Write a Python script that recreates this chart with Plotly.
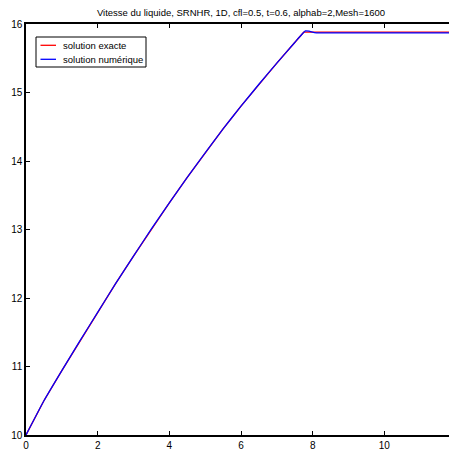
import plotly.graph_objects as go

# Exact solution
x_exact = [0, 0.5, 1.0, 1.5, 2.0, 2.5, 3.0, 3.5, 4.0, 4.5, 5.0, 5.5, 6.0, 6.5, 7.0, 7.5, 7.75, 8.0, 9.0, 10.0, 11.0, 12.0]
y_exact = [10.0, 10.50, 10.94, 11.37, 11.79, 12.21, 12.61, 13.01, 13.39, 13.76, 14.12, 14.47, 14.80, 15.12, 15.43, 15.73, 15.88, 15.88, 15.88, 15.88, 15.88, 15.88]

# Numerical solution
x_num = [0, 0.5, 1.0, 1.5, 2.0, 2.5, 3.0, 3.5, 4.0, 4.5, 5.0, 5.5, 6.0, 6.5, 7.0, 7.5, 7.7, 7.8, 7.9, 8.05, 8.2, 9.0, 10.0, 11.0, 12.0]
y_num = [10.0, 10.50, 10.94, 11.37, 11.79, 12.21, 12.61, 13.01, 13.39, 13.76, 14.12, 14.47, 14.80, 15.12, 15.43, 15.73, 15.85, 15.90, 15.895, 15.875, 15.87, 15.87, 15.87, 15.87, 15.87]

x_ticks = [0, 2, 4, 6, 8, 10, 12]
y_ticks = [10, 11, 12, 13, 14, 15, 16]

legend_names = ["solution exacte", "solution numérique"]
colors = ["#ff0000", "#0000ff"]

FONT = "Liberation Sans, Arial, Helvetica, sans-serif"

fig = go.Figure()
fig.add_trace(go.Scatter(x=x_exact, y=y_exact, mode="lines", name=legend_names[0],
                         line=dict(color=colors[0], width=1.3)))
fig.add_trace(go.Scatter(x=x_num, y=y_num, mode="lines", name=legend_names[1],
                         line=dict(color=colors[1], width=1.3, shape="spline", smoothing=0.4)))

# plot area (window pixels): x 26..456, y 24..435 ; body has 8px margin
PW, PH = 430.0, 411.0
def px(xp):
    return (xp - 26) / PW
def py(yp):
    return (435 - yp) / PH

shapes = [
    dict(type="rect", xref="paper", yref="paper", x0=px(36), x1=px(146), y0=py(67), y1=py(37),
         line=dict(color="black", width=1), fillcolor="white", layer="above"),
]
annotations = []
for i, (name, col) in enumerate(zip(legend_names, colors)):
    yp = 45.3 + i * 14
    shapes.append(dict(type="line", xref="paper", yref="paper", x0=px(40.5), x1=px(56),
                       y0=py(yp), y1=py(yp), line=dict(color=col, width=1.3), layer="above"))
    annotations.append(dict(text=name, xref="paper", yref="paper", x=px(61), y=py(yp),
                            xanchor="left", yanchor="middle", showarrow=False,
                            font=dict(family=FONT, size=9.5, color="black")))

font = dict(family=FONT, size=10, color="black")
fig.update_layout(
    width=449, height=445,
    margin=dict(l=18, r=1, t=16, b=18, autoexpand=False),
    paper_bgcolor="white", plot_bgcolor="white",
    font=font,
    title=dict(text="Vitesse du liquide, SRNHR, 1D, cfl=0.5, t=0.6, alphab=2,Mesh=1600",
               x=0.5, xanchor="center", xref="paper", y=0.9885, yanchor="middle",
               font=dict(family=FONT, size=9.5, color="black")),
    showlegend=False,
    shapes=shapes,
    annotations=annotations,
)
fig.update_xaxes(range=[0, 12], tickvals=x_ticks, ticktext=[str(v) for v in x_ticks],
                 showgrid=False, zeroline=False, showline=True, linecolor="black", linewidth=1.5,
                 mirror="ticks", ticks="inside", ticklen=4, tickcolor="black", tickfont=font,
                 automargin=False)
fig.update_yaxes(range=[10, 16], tickvals=y_ticks, ticktext=[str(v) for v in y_ticks],
                 showgrid=False, zeroline=False, showline=True, linecolor="black", linewidth=1.5,
                 mirror="ticks", ticks="inside", ticklen=4, tickcolor="black", tickfont=font,
                 automargin=False)

fig.write_html("out.html")
